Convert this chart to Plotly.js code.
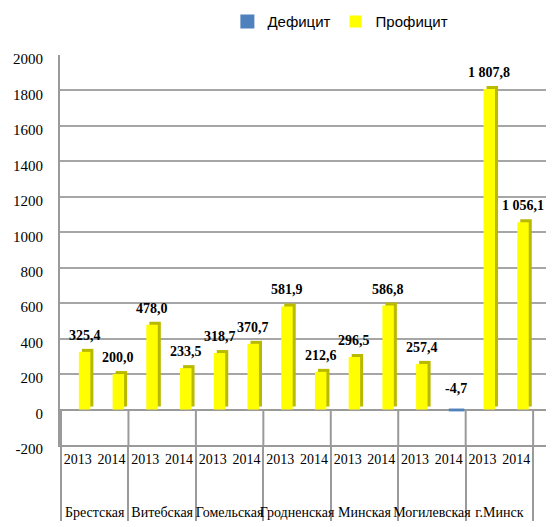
<!DOCTYPE html>
<html>
<head>
<meta charset="utf-8">
<script src="https://cdn.plot.ly/plotly-3.0.1.min.js"></script>
<style>html,body{margin:0;padding:0;background:#fff;}#chart{width:558px;height:527px;}</style>
</head>
<body>
<div id="chart"></div>
<script>
// ---- data ----
const regionNames = ['Брестская', 'Витебская', 'Гомельская', 'Гродненская', 'Минская', 'Могилевская', 'г.Минск'];
const yearLabels = ['2013', '2014'];
const profit = [325.4, 200.0, 478.0, 233.5, 318.7, 370.7, 581.9, 212.6, 296.5, 586.8, 257.4, null, 1807.8, 1056.1];
const deficit = [null, null, null, null, null, null, null, null, null, null, null, -4.7, null, null];
const valueLabels = ['325,4', '200,0', '478,0', '233,5', '318,7', '370,7', '581,9', '212,6', '296,5', '586,8', '257,4', '-4,7', '1 807,8', '1 056,1'];
const yTickVals = [-200, 0, 200, 400, 600, 800, 1000, 1200, 1400, 1600, 1800, 2000];

// ---- build axes categories ----
const lvlRegion = [], lvlYear = [];
regionNames.forEach(r => yearLabels.forEach(y => { lvlRegion.push(' <br> <br>' + r); lvlYear.push(y); }));
const xcats = [lvlRegion, lvlYear];

const serif = 'Liberation Serif';
const sans = 'Liberation Sans';
const BAR_W = 0.34, BAR_OFF = 0.03, SIDE = 0.09, LIFT = 17;

const traces = [
  { type: 'bar', x: xcats, y: profit, base: LIFT, width: BAR_W, offset: BAR_OFF + SIDE,
    marker: { color: '#b9b900' }, showlegend: false, hoverinfo: 'skip' },
  { type: 'bar', name: 'Дефицит', x: xcats, y: deficit, width: BAR_W + 0.06, offset: BAR_OFF,
    marker: { color: '#4f81bd', line: { color: '#4f81bd', width: 2 } } },
  { type: 'bar', name: 'Профицит', x: xcats, y: profit, width: BAR_W, offset: BAR_OFF,
    marker: { color: '#ffff00' } }
];

const annotations = valueLabels.map((t, i) => {
  const v = profit[i] != null ? profit[i] : deficit[i];
  return { x: i + BAR_OFF + BAR_W / 2, y: v, xref: 'x', yref: 'y', text: '<b>' + t + '</b>',
    showarrow: false, yanchor: 'bottom', xanchor: 'center', yshift: v < 0 ? 12 : 7,
    font: { family: serif, size: 14, color: '#000' } };
});

const shapes = [];
for (let k = 0; k <= regionNames.length; k++) {
  shapes.push({ type: 'line', xref: 'x', yref: 'y', x0: 2 * k - 0.5, x1: 2 * k - 0.5, y0: -200, y1: 0,
    line: { color: '#9a9a9a', width: 2 }, layer: 'below' });
}

const layout = {
  width: 558, height: 527,
  margin: { l: 60, r: 12, t: 55, b: 82 },
  paper_bgcolor: '#fff', plot_bgcolor: '#fff',
  barmode: 'overlay',
  showlegend: true,
  legend: { orientation: 'h', xref: 'container', yref: 'container', x: 0.61, xanchor: 'center', y: 0.99, yanchor: 'top',
    font: { family: sans, size: 15, color: '#000' }, itemwidth: 30, traceorder: 'normal' },
  xaxis: { type: 'multicategory', showgrid: false, showline: true, linecolor: '#9a9a9a', linewidth: 2,
    showdividers: true, dividercolor: '#9a9a9a', dividerwidth: 2, ticks: '', tickangle: 0,
    tickfont: { family: serif, size: 14, color: '#000' } },
  yaxis: { range: [-200, 2000], tickvals: yTickVals, ticktext: yTickVals.map(String), showgrid: true,
    gridcolor: '#a6a6a6', gridwidth: 2, zeroline: true, zerolinecolor: '#9a9a9a', zerolinewidth: 2,
    showline: true, linecolor: '#9a9a9a', linewidth: 2, ticks: '', ticklabelstandoff: 12, ticklabelshift: 4,
    tickfont: { family: serif, size: 15, color: '#000' } },
  annotations: annotations,
  shapes: shapes
};

Plotly.newPlot('chart', traces, layout, { displayModeBar: false, staticPlot: true });
</script>
</body>
</html>
